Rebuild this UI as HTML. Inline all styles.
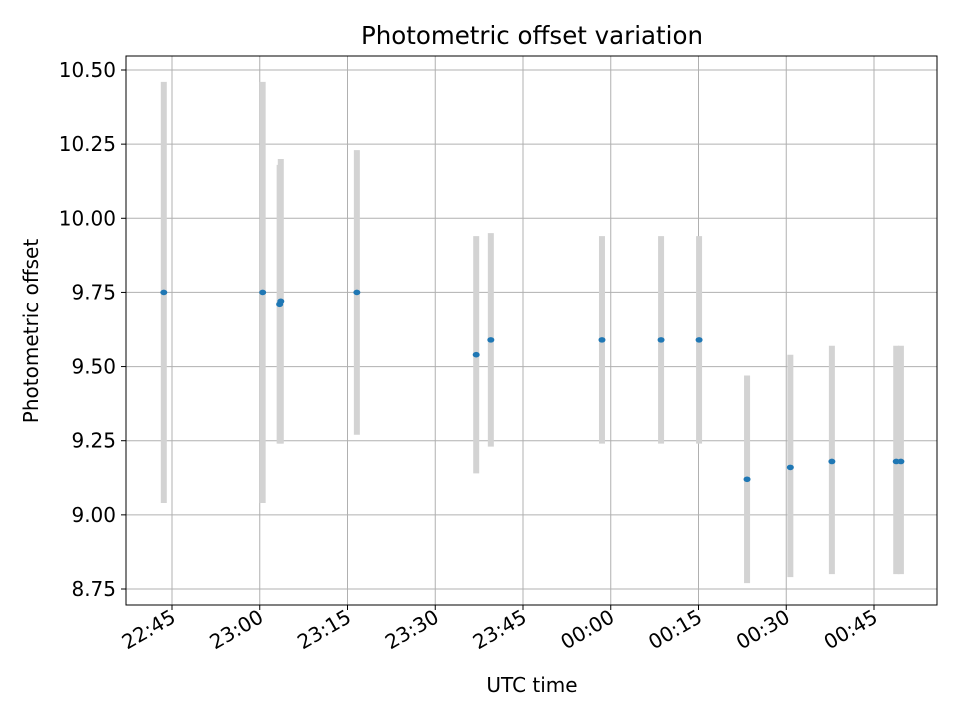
<!DOCTYPE html>
<html><head><meta charset="utf-8"><style>
body{margin:0;background:#fff;font-family:"Liberation Sans","DejaVu Sans",sans-serif;}
svg text{font-family:"DejaVu Sans","Liberation Sans",sans-serif;fill:#000;}
</style></head><body>
<svg id="chart" width="960" height="720" xmlns="http://www.w3.org/2000/svg">
<rect width="960" height="720" fill="#fff"/>
<g id="grid"></g><g id="bars"></g><g id="pts"></g><g id="axes"></g>
<text x="532" y="44" font-size="24.5" text-anchor="middle">Photometric offset variation</text>
<text x="532" y="692" font-size="20" text-anchor="middle">UTC time</text>
<text transform="translate(38,331) rotate(-90)" font-size="20" text-anchor="middle">Photometric offset</text>
</svg>
<script>
// minutes after 22:00 UTC
const times=[43.6,60.5,63.4,63.6,76.6,97,99.5,118.5,128.6,135.1,143.3,150.7,157.8,168.8,169.6];
const offsets=[9.75,9.75,9.71,9.72,9.75,9.54,9.59,9.59,9.59,9.59,9.12,9.16,9.18,9.18,9.18];
const errLow=[9.04,9.04,9.24,9.24,9.27,9.14,9.23,9.24,9.24,9.24,8.77,8.79,8.80,8.80,8.80];
const errHigh=[10.46,10.46,10.18,10.20,10.23,9.94,9.95,9.94,9.94,9.94,9.47,9.54,9.57,9.57,9.57];
const yTicks=[8.75,9.00,9.25,9.50,9.75,10.00,10.25,10.50];
const xTickMinutes=[45,60,75,90,105,120,135,150,165];
const xTickLabels=["22:45","23:00","23:15","23:30","23:45","00:00","00:15","00:30","00:45"];
const L=126,R=937,T=56,B=605;
const xs=t=>172+(t-45)*5.85;
const ys=v=>70+(10.5-v)*296.57;
const NS="http://www.w3.org/2000/svg";
function mk(tag,attrs,parent){const e=document.createElementNS(NS,tag);for(const k in attrs)e.setAttribute(k,attrs[k]);parent.appendChild(e);return e;}
const grid=document.getElementById('grid'),bars=document.getElementById('bars'),pts=document.getElementById('pts'),axes=document.getElementById('axes');
yTicks.forEach(v=>{const y=ys(v);
 const g=mk('line',{x1:L,x2:R,y1:y,y2:y,stroke:'#b0b0b0','stroke-width':1},grid);
 
 
 mk('line',{x1:L-5,x2:L,y1:y,y2:y,stroke:'#000'},axes);
 const t=mk('text',{x:L-10,y:y+7,'font-size':20,'text-anchor':'end'},axes);t.textContent=v.toFixed(2);
 
 
});
xTickMinutes.forEach((m,i)=>{const x=xs(m);
 const g=mk('line',{x1:x,x2:x,y1:T,y2:B,stroke:'#b0b0b0','stroke-width':1},grid);
 
 
 mk('line',{x1:x,x2:x,y1:B,y2:B+5,stroke:'#000'},axes);
 const t=mk('text',{x:x+5,y:B+16,'font-size':20,'text-anchor':'end',transform:`rotate(-30 ${x+5} ${B+16})`},axes);t.textContent=xTickLabels[i];
 
 
});
times.forEach((m,i)=>{const x=xs(m);
 const b=mk('line',{x1:x,x2:x,y1:ys(errHigh[i]),y2:ys(errLow[i]),stroke:'#d3d3d3','stroke-width':6},bars);
 
 
 const p=mk('ellipse',{cx:x,cy:ys(offsets[i]),rx:3.5,ry:2.8,fill:'#1f77b4'},pts);
 
 
});
const f=mk('rect',{x:L,y:T,width:R-L,height:B-T,fill:'none',stroke:'#000','stroke-width':1},axes);


</script>
</body></html>
